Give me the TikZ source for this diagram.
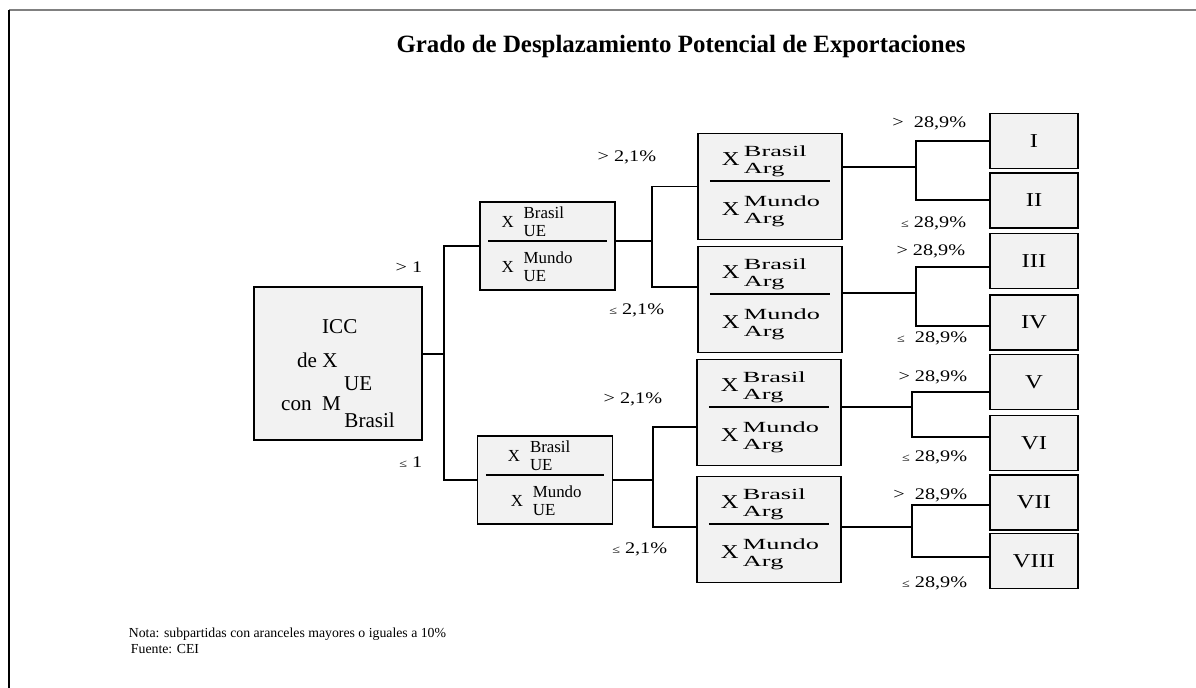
\documentclass[tikz,border=0pt]{standalone}
\usepackage{fontspec}
\setmainfont{Liberation Serif}
\newfontfamily\widefont[FakeStretch=1.25]{Liberation Serif}
\newfontfamily\widerfont[FakeStretch=1.7]{Liberation Serif}
% X with a stacked super- and subscript
\newcommand{\xpair}[4][7pt]{#2\hspace{#1}\begin{tabular}[c]{@{}l@{}}#3\\#4\end{tabular}}
\newcommand{\bigx}{{\widefont\fontsize{14}{14}\selectfont X}}
\newcommand{\lesym}{{\fontsize{8}{9}\selectfont ≤}}
\begin{document}
\begin{tikzpicture}[x=0.025cm,y=-0.025cm,line width=1.2pt,
    box/.style={draw=black,fill=black!5,line width=1.3pt,inner sep=0pt,align=center},
    iccbox/.style={box,minimum width=4.2cm,minimum height=3.825cm},
    icctext/.style={inner sep=0pt,align=left,font=\fontsize{15}{23.4}\selectfont},
    ratiob/.style={box,minimum width=3.375cm,minimum height=2.2cm,align=left,font=\fontsize{12}{13}\selectfont},
    ratioc/.style={box,minimum width=3.6cm,minimum height=2.65cm,align=left,font=\widerfont\fontsize{11}{11.9}\selectfont},
    leaf/.style={box,minimum width=2.2cm,minimum height=1.375cm,font=\widefont\fontsize{14}{16}\selectfont},
    cond/.style={inner sep=0pt,anchor=base east,font=\widefont\fontsize{11.5}{13}\selectfont}
  ]
  \useasboundingbox (0,0) rectangle (1196,688);
  \draw[gray,line width=1.5pt] (9,10) -- (1196,10);
  \draw[line width=1.2pt] (9,10) -- (9,688);

  \node[font=\bfseries\fontsize{17.7}{21}\selectfont] (title) at (681,47) {Grado de Desplazamiento Potencial de Exportaciones};

  % root
  \node[iccbox] (icc) at (338,363.5) {};
  \node[icctext] (icclbl) at (338,373.5) {\hspace*{1.025cm}ICC\\[1pt]\hspace*{0.4cm}de X\\[-7.1pt]\hspace*{1.575cm}UE\\[-9.2pt]con~~M\,\raisebox{-0.425cm}{Brasil}};

  % second level
  \node[ratiob] (b2a) at (547.5,246) {\hspace*{0.33cm}\xpair{X}{Brasil}{UE}\\[-3pt]\rule{2.95cm}{1.3pt}\\[5pt]\hspace*{0.33cm}\xpair{X}{Mundo}{UE}};
  \node[ratiob] (b2b) at (545,480) {\hspace*{0.55cm}\xpair{X}{Brasil}{UE}\\[-3pt]\rule{2.95cm}{1.3pt}\\[5pt]\hspace*{0.62cm}\xpair{X}{Mundo}{UE}};

  % third level
  \node[ratioc] (b3a) at (770,186.5) {\hspace*{0.3cm}\xpair[3pt]{\bigx}{Brasil}{Arg}\\[0pt]\rule{3cm}{1.3pt}\\[8pt]\hspace*{0.3cm}\xpair[3pt]{\bigx}{Mundo}{Arg}};
  \node[ratioc] (b3b) at (770,299.5) {\hspace*{0.3cm}\xpair[3pt]{\bigx}{Brasil}{Arg}\\[0pt]\rule{3cm}{1.3pt}\\[8pt]\hspace*{0.3cm}\xpair[3pt]{\bigx}{Mundo}{Arg}};
  \node[ratioc] (b3c) at (769,412.5) {\hspace*{0.3cm}\xpair[3pt]{\bigx}{Brasil}{Arg}\\[0pt]\rule{3cm}{1.3pt}\\[8pt]\hspace*{0.3cm}\xpair[3pt]{\bigx}{Mundo}{Arg}};
  \node[ratioc] (b3d) at (769,529.5) {\hspace*{0.3cm}\xpair[3pt]{\bigx}{Brasil}{Arg}\\[0pt]\rule{3cm}{1.3pt}\\[8pt]\hspace*{0.3cm}\xpair[3pt]{\bigx}{Mundo}{Arg}};

  % leaves
  \foreach \n/\y/\t in {l1/141/I,l2/200.5/II,l3/261/III,l4/322.5/IV,l5/382/V,l6/443/VI,l7/502.5/VII,l8/561/VIII}
    \node[leaf] (\n) at (1034,\y) {\t};

  % connectors
  \coordinate (f1) at (444,354);
  \draw (icc.east |- f1) -- (f1);
  \draw (b2a.west) -| (f1) |- (b2b.west);

  \coordinate (f2a) at (652,241);
  \coordinate (f2a-b) at (652,287);
  \draw (b2a.east |- f2a) -- (f2a);
  \draw (b3a.west) -| (f2a-b) -- (b3b.west |- f2a-b);

  \coordinate (f2b) at (653,480);
  \coordinate (f2b-t) at (653,427);
  \coordinate (f2b-b) at (653,527);
  \draw (b2b.east |- f2b) -- (f2b);
  \draw (b3c.west |- f2b-t) -- (f2b-t) -- (f2b-b) -- (b3d.west |- f2b-b);

  \coordinate (f3a) at (916,167);
  \coordinate (f3a-t) at (916,141);
  \coordinate (f3a-b) at (916,200);
  \draw (b3a.east |- f3a) -- (f3a);
  \draw (l1.west |- f3a-t) -- (f3a-t) -- (f3a-b) -- (l2.west |- f3a-b);

  \coordinate (f3b) at (916,293);
  \coordinate (f3b-t) at (916,267);
  \coordinate (f3b-b) at (916,326);
  \draw (b3b.east |- f3b) -- (f3b);
  \draw (l3.west |- f3b-t) -- (f3b-t) -- (f3b-b) -- (l4.west |- f3b-b);

  \coordinate (f3c) at (912,407);
  \coordinate (f3c-t) at (912,392);
  \coordinate (f3c-b) at (912,437);
  \draw (b3c.east |- f3c) -- (f3c);
  \draw (l5.west |- f3c-t) -- (f3c-t) -- (f3c-b) -- (l6.west |- f3c-b);

  \coordinate (f3d) at (912,527);
  \coordinate (f3d-t) at (912,505);
  \coordinate (f3d-b) at (912,557);
  \draw (b3d.east |- f3d) -- (f3d);
  \draw (l7.west |- f3d-t) -- (f3d-t) -- (f3d-b) -- (l8.west |- f3d-b);

  % conditions
  \node[cond] (c1) at (423,273) {> 1};
  \node[cond] (c2) at (423,467) {\lesym\ 1};
  \node[cond] (c3) at (657,162) {> 2,1\%};
  \node[cond] (c4) at (665,315) {\lesym\ 2,1\%};
  \node[cond] (c5) at (663,403) {> 2,1\%};
  \node[cond] (c6) at (668,553) {\lesym\ 2,1\%};
  \node[cond] (c7) at (967,128) {>\ \ 28,9\%};
  \node[cond] (c8) at (967,228) {\lesym\ 28,9\%};
  \node[cond] (c9) at (966,256) {> 28,9\%};
  \node[cond] (c10) at (968,343) {\lesym\ \ 28,9\%};
  \node[cond] (c11) at (968,382) {> 28,9\%};
  \node[cond] (c12) at (968,461) {\lesym\ 28,9\%};
  \node[cond] (c13) at (968,499) {>\ \ 28,9\%};
  \node[cond] (c14) at (968,587) {\lesym\ 28,9\%};

  \node[anchor=north west,align=left,inner sep=0pt,font=\fontsize{9.8}{11.3}\selectfont] (nota) at (128,627) {Nota: subpartidas con aranceles mayores o iguales a 10\%\\\hspace*{1.5pt}Fuente: CEI};
\end{tikzpicture}
\end{document}
